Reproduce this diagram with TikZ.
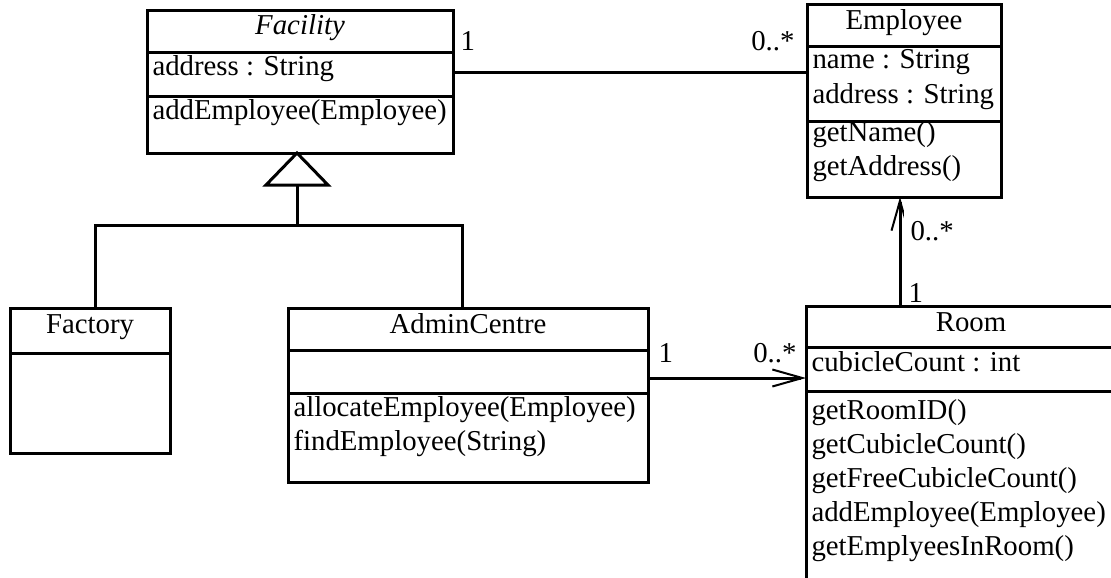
\documentclass[tikz,border=0pt]{standalone}
\usepackage{fontspec}
\setmainfont{Liberation Serif}
\usetikzlibrary{arrows.meta}
\begin{document}
\begin{tikzpicture}[x=1pt,y=-1pt,line width=3pt,line join=miter,
  cls/.style={draw, line width=3pt, inner sep=0pt, outer sep=0pt, anchor=north west},
  txt/.style={inner sep=0pt, anchor=base west, font=\fontsize{28.8}{34}\selectfont},
  ttl/.style={inner sep=0pt, anchor=base, font=\fontsize{28.8}{34}\selectfont},
  mult/.style={inner sep=0pt, font=\fontsize{28.8}{34}\selectfont},
  nav/.style={-{Straight Barb[length=30pt,width=17pt,line width=2pt]}},
]
\useasboundingbox (0,0) rectangle (1111,578);
\clip (0,0) rectangle (1111,578);

% Facility
\node[cls, minimum width=306pt, minimum height=142pt] (facility) at (147,11) {};
\draw (147,53) -- (453,53);
\draw (147,96) -- (453,96);
\node[ttl, font=\fontsize{28.8}{34}\selectfont\itshape] (facilityT) at (300,35) {Facility};
\node[txt] (facilityA1) at (151,76) {address : String};
\node[txt] (facilityM1) at (151,119) {addEmployee(Employee)};

% Employee
\node[cls, minimum width=194pt, minimum height=192pt] (employee) at (807,5) {};
\draw (807,47) -- (1001,47);
\draw (807,121) -- (1001,121);
\node[ttl] (employeeT) at (904,30) {Employee};
\node[txt] (employeeA1) at (811,69) {name : String};
\node[txt] (employeeA2) at (811,103) {address : String};
\node[txt] (employeeM1) at (811,141) {getName()};
\node[txt] (employeeM2) at (811,175) {getAddress()};

% Factory
\node[cls, minimum width=160pt, minimum height=145pt] (factory) at (10,308) {};
\draw (10,353) -- (170,353);
\node[ttl] (factoryT) at (90,333) {Factory};

% AdminCentre
\node[cls, minimum width=360pt, minimum height=174pt] (admin) at (288,308) {};
\draw (288,350) -- (648,350);
\draw (288,393) -- (648,393);
\node[ttl] (adminT) at (468,333) {AdminCentre};
\node[txt] (adminM1) at (292,416) {allocateEmployee(Employee)};
\node[txt] (adminM2) at (292,450) {findEmployee(String)};

% Room
\node[cls, minimum width=330pt, minimum height=320pt] (room) at (806,306) {};
\draw (806,347) -- (1136,347);
\draw (806,391) -- (1136,391);
\node[ttl] (roomT) at (971,331) {Room};
\node[txt] (roomA1) at (810,371) {cubicleCount : int};
\node[txt] (roomM1) at (810,419) {getRoomID()};
\node[txt] (roomM2) at (810,453) {getCubicleCount()};
\node[txt] (roomM3) at (810,487) {getFreeCubicleCount()};
\node[txt] (roomM4) at (810,521) {addEmployee(Employee)};
\node[txt] (roomM5) at (810,555) {getEmplyeesInRoom()};

% Generalization
\coordinate (apex) at ([xshift=-3pt]facility.south);
\path (apex) ++(0,32) coordinate (gb);
\draw (gb) -- ++(0,40) coordinate (gj);
\draw ([xshift=5pt]factory.north) |- (gj) -| ([xshift=-6pt]admin.north);
\draw[fill=white] (apex) -- ++(31,32) -- ++(-62,0) -- cycle;

% Associations
\draw ([yshift=9pt]facility.east) -- ([yshift=9pt]facility.east -| employee.west)
  node[mult, pos=0, anchor=base west, xshift=6pt, yshift=22pt] (m1) {1}
  node[mult, pos=1, anchor=base east, xshift=-11pt, yshift=22pt] (m2) {0..*};
\draw[nav] ([yshift=17pt]admin.east) -- ([yshift=17pt]admin.east -| room.west)
  node[mult, pos=0, anchor=base west, xshift=9pt, yshift=16pt] (m3) {1}
  node[mult, pos=1, anchor=base east, xshift=-8pt, yshift=16pt] (m4) {0..*};
\draw[nav] ([xshift=-71pt]room.north) -- ([xshift=-4pt]employee.south)
  node[mult, pos=0, anchor=base west, xshift=7pt, yshift=4pt] (m5) {1}
  node[mult, pos=1, anchor=base west, xshift=2.5pt, yshift=-43pt,
       fill=white, inner xsep=6.5pt, inner ysep=0pt, text height=39pt, text depth=2pt] (m6) {0..*};
\end{tikzpicture}
\end{document}
